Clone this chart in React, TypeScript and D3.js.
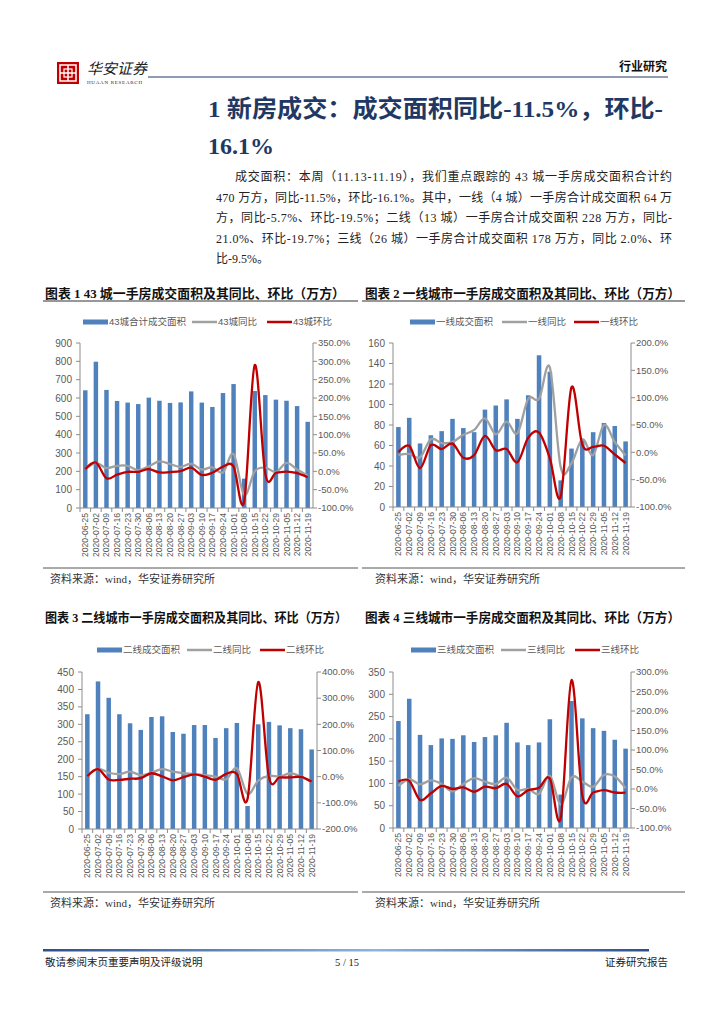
import React, { useEffect } from 'react';
import * as d3 from 'd3';

// weekly dates shared by all four charts
const dates = [
  '2020-06-25', '2020-07-02', '2020-07-09', '2020-07-16', '2020-07-23', '2020-07-30',
  '2020-08-06', '2020-08-13', '2020-08-20', '2020-08-27', '2020-09-03', '2020-09-10',
  '2020-09-17', '2020-09-24', '2020-10-01', '2020-10-08', '2020-10-15', '2020-10-22',
  '2020-10-29', '2020-11-05', '2020-11-12', '2020-11-19',
];

// 43 cities
const area43 = [642, 798, 644, 584, 575, 567, 602, 585, 573, 576, 636, 575, 551, 627, 676, 160, 638, 616, 591, 585, 556, 470];
const yoy43 = [5, 23, 9, 15, 15, 3, 14, 27, 20, 12, 21, 5, 11, -3, 47, -65, 0, 10, -2, 23, 5, -11.5];
const mom43 = [6, 24, -19, -9, -1.5, -1.4, 6, -3, -2, 0.5, 10, -10, -4, 13, 13, -82, 290, -8, -4, -1, -5, -16.1];

// tier 1
const area1 = [78, 87, 62, 70, 74, 86, 77, 73, 95, 99, 105, 86, 109, 148, 132, 26, 57, 66, 73, 82, 79, 64];
const yoy1 = [-5, -3, -9, 24, 17, 19, 32, 41, 62, 33, 56, 35, 98, 98, 155, -27, -20, 24, -5, 50, 19, -5.7];
const mom1 = [0, 12, -29, 13, 6, 16, -10, -5, 30, 4, 6, -18, 27, 36, -11, -81, 119, 14, 10, 12, -4, -19.5];

// tier 2
const area2 = [329, 423, 376, 329, 303, 284, 321, 323, 278, 273, 298, 298, 261, 289, 304, 66, 300, 307, 297, 289, 286, 228];
const yoy2 = [3, 30, 15, 10, 19, 6, 15, 29, 19, 13, 10, 6, 0, -10, 32, -66, -15, 3, 0, 13, 0, -21.0];
const mom2 = [2, 29, -11, -12, -8, -6, 13, 1, -14, -2, 9, 0, -12, 11, 10, -84, 362, -2, -3, -3, -1, -19.7];

// tier 3
const area3 = [240, 290, 209, 186, 201, 200, 208, 193, 204, 208, 236, 192, 186, 192, 244, 75, 285, 246, 224, 218, 198, 178];
const yoy3 = [8, 25, 12, 22, 13, -6, 13, 28, 19, 13, 29, -2, 0, -12, 34, -40, 30, 19, 6, 36, 32, 2.0];
const mom3 = [19, 21, -28, -11, 8, 0, 4, -7, 6, 2, 13, -19, -3, 3, 27, -75, 279, -17, -9, -3, -9, -9.5];

const paragraph = [
  '成交面积：本周（11.13-11.19），我们重点跟踪的 43 城一手房成交面积合计约',
  '470 万方，同比-11.5%，环比-16.1%。其中，一线（4 城）一手房合计成交面积 64 万',
  '方，同比-5.7%、环比-19.5%；二线（13 城）一手房合计成交面积 228 万方，同比-',
  '21.0%、环比-19.7%；三线（26 城）一手房合计成交面积 178 万方，同比 2.0%、环',
  '比-9.5%。',
];

const SERIF = '"Liberation Serif", "Noto Sans CJK SC", serif';
const SANS = '"Liberation Sans", "Noto Sans CJK SC", sans-serif';
const BLUE = '#4F81BD';
const GRAY = '#A0A0A0';
const RED = '#C00000';
const LABEL = '#595959';
const AXIS = '#8C8C8C';

interface ChartCfg {
  left: number; right: number; top: number; bottom: number;
  yMax: number; yStep: number;
  rMin: number; rMax: number; rStep: number;
  area: number[]; yoy: number[]; mom: number[];
  names: string[];
  legendY: number;
  legendX: number[]; // blue rect, gray line, red line start x
}

function Chart({ c }: { c: ChartCfg }) {
  const x = d3.scaleBand().domain(dates).range([c.left, c.right]).padding(0);
  const y = d3.scaleLinear().domain([0, c.yMax]).range([c.bottom, c.top]);
  const r = d3.scaleLinear().domain([c.rMin, c.rMax]).range([c.bottom, c.top]);
  const yTicks = d3.range(0, c.yMax + 0.001, c.yStep);
  const rTicks = d3.range(c.rMin, c.rMax + 0.001, c.rStep);
  const bw = x.step() * 0.42;
  const cx = (d: string) => (x(d) as number) + x.bandwidth() / 2;
  const line = d3.line<number>()
    .x((_, i) => cx(dates[i]))
    .y(v => r(v))
    .curve(d3.curveCardinal.tension(0));

  const colors = [BLUE, GRAY, RED];

  return (
    <g>
      {/* legend */}
      {c.names.map((n, i) => (
        <g key={n}>
          {i === 0
            ? <rect x={c.legendX[i]} y={c.legendY - 2.5} width={25} height={5} fill={BLUE} />
            : <line x1={c.legendX[i]} x2={c.legendX[i] + 25} y1={c.legendY} y2={c.legendY} stroke={colors[i]} strokeWidth={2.5} />}
          <text x={c.legendX[i] + 26} y={c.legendY} dy="0.35em" fontSize={9.5} fill={LABEL} fontFamily={SANS}>{n}</text>
        </g>
      ))}

      {/* left axis */}
      <line x1={c.left} x2={c.left} y1={c.top} y2={c.bottom} stroke={AXIS} strokeWidth={1} />
      {yTicks.map(t => (
        <g key={'y' + t}>
          <line x1={c.left - 4} x2={c.left} y1={y(t)} y2={y(t)} stroke={AXIS} />
          <text x={c.left - 8} y={y(t)} dy="0.35em" textAnchor="end" fontSize={10} fill={LABEL} fontFamily={SANS}>{t}</text>
        </g>
      ))}

      {/* right axis */}
      <line x1={c.right} x2={c.right} y1={c.top} y2={c.bottom} stroke={AXIS} strokeWidth={1} />
      {rTicks.map(t => (
        <g key={'r' + t}>
          <line x1={c.right} x2={c.right + 4} y1={r(t)} y2={r(t)} stroke={AXIS} />
          <text x={c.right + 5} y={r(t)} dy="0.35em" fontSize={9.5} fill={LABEL} fontFamily={SANS}>{t.toFixed(1) + '%'}</text>
        </g>
      ))}

      {/* bars */}
      {c.area.map((v, i) => (
        <rect key={'b' + i} x={cx(dates[i]) - bw / 2} y={y(v)} width={bw} height={c.bottom - y(v)} fill={BLUE} />
      ))}

      {/* x axis */}
      <line x1={c.left} x2={c.right} y1={c.bottom} y2={c.bottom} stroke={AXIS} />
      {dates.map((d, i) => (
        <line key={'xt' + i} x1={x(d) as number} x2={x(d) as number} y1={c.bottom} y2={c.bottom + 4} stroke={AXIS} />
      ))}
      {dates.map(d => (
        <text key={'xl' + d} transform={`translate(${cx(d)},${c.bottom + 5}) rotate(-90)`} dy="0.35em"
          textAnchor="end" fontSize={8.6} fill={LABEL} fontFamily={SANS}>{d}</text>
      ))}

      {/* lines */}
      <path d={line(c.yoy) || ''} fill="none" stroke={GRAY} strokeWidth={2.3} />
      <path d={line(c.mom) || ''} fill="none" stroke={RED} strokeWidth={2.3} />
    </g>
  );
}

const chart1: ChartCfg = {
  left: 80, right: 313, top: 343, bottom: 508,
  yMax: 900, yStep: 100, rMin: -100, rMax: 350, rStep: 50,
  area: area43, yoy: yoy43, mom: mom43,
  names: ['43城合计成交面积', '43城同比', '43城环比'],
  legendY: 322, legendX: [83, 192, 267],
};
const chart2: ChartCfg = {
  left: 393, right: 631, top: 343, bottom: 507,
  yMax: 160, yStep: 20, rMin: -100, rMax: 200, rStep: 50,
  area: area1, yoy: yoy1, mom: mom1,
  names: ['一线成交面积', '一线同比', '一线环比'],
  legendY: 322, legendX: [410, 502, 574],
};
const chart3: ChartCfg = {
  left: 82, right: 317, top: 672, bottom: 829,
  yMax: 450, yStep: 50, rMin: -200, rMax: 400, rStep: 100,
  area: area2, yoy: yoy2, mom: mom2,
  names: ['二线成交面积', '二线同比', '二线环比'],
  legendY: 650, legendX: [97, 187, 260],
};
const chart4: ChartCfg = {
  left: 393, right: 631, top: 672, bottom: 828,
  yMax: 350, yStep: 50, rMin: -100, rMax: 300, rStep: 50,
  area: area3, yoy: yoy3, mom: mom3,
  names: ['三线成交面积', '三线同比', '三线环比'],
  legendY: 650, legendX: [411, 501, 575],
};

function Caption({ x, y, w, x1, x2, text, rule }: { x: number; y: number; w: number; x1: number; x2: number; text: string; rule: boolean }) {
  return (
    <g>
      <text x={x} y={y} dy="0.35em" fontSize={13} fontWeight="bold" fill="#111" fontFamily={SERIF}
        textLength={w} lengthAdjust="spacingAndGlyphs">{text}</text>
      {rule && <line x1={x1} x2={x2} y1={y + 8} y2={y + 8} stroke="#333" strokeWidth={1.2} />}
    </g>
  );
}

function Source({ x, y, x1, x2 }: { x: number; y: number; x1: number; x2: number }) {
  return (
    <g>
      <line x1={x1} x2={x2} y1={y} y2={y} stroke="#555" strokeWidth={1} />
      <text x={x} y={y + 11} dy="0.35em" fontSize={11} fill="#333" fontFamily={SERIF}>资料来源：wind，华安证券研究所</text>
    </g>
  );
}

export default function App() {
  useEffect(() => {
    document.body.style.margin = '0';
  }, []);

  return (
    <svg width={724} height={1024} style={{ position: 'absolute', left: 0, top: 0, background: '#fff' }}>
      <defs>
        <linearGradient id="foot" x1="0" x2="1" y1="0" y2="0">
          <stop offset="0%" stopColor="#2B4F8C" />
          <stop offset="55%" stopColor="#8DB3E2" />
          <stop offset="100%" stopColor="#2B4F8C" />
        </linearGradient>
      </defs>

      {/* header */}
      <rect x={57} y={62} width={22} height={22} fill="#C00000" />
      <rect x={60} y={65} width={16} height={16} fill="none" stroke="#fff" strokeWidth={1.5} />
      <line x1={60} x2={76} y1={73} y2={73} stroke="#fff" strokeWidth={1.5} />
      <line x1={68} x2={68} y1={65} y2={81} stroke="#fff" strokeWidth={1.5} />
      <rect x={64} y={69} width={8} height={8} fill="none" stroke="#fff" strokeWidth={1.2} />
      <text x={87} y={74} fontSize={15} fill="#222" fontFamily={SERIF} fontStyle="italic">华安证券</text>
      <text x={87} y={84} fontSize={5} fill="#222" fontFamily={SERIF} textLength={55}>HUAAN RESEARCH</text>
      <line x1={148} x2={668} y1={77} y2={77} stroke="#1F3864" strokeWidth={1} />
      <text x={667} y={67} dy="0.35em" textAnchor="end" fontSize={12} fontWeight="bold" fill="#111" fontFamily={SERIF}>行业研究</text>

      {/* section title */}
      <text x={208} y={117} fontSize={24} fontWeight="bold" fill="#1F3864" fontFamily={SERIF} textLength={455} lengthAdjust="spacingAndGlyphs">1 新房成交：成交面积同比-11.5%，环比-</text>
      <text x={208} y={154} fontSize={24} fontWeight="bold" fill="#1F3864" fontFamily={SERIF}>16.1%</text>

      {/* paragraph */}
      {paragraph.map((t, i) => (
        <text key={i} x={i === 0 ? 235 : 216} y={177 + i * 20.5} dy="0.35em" fontSize={12} fill="#222" fontFamily={SERIF}
          {...(i < 4 ? { textLength: i === 0 ? 437 : 456, lengthAdjust: 'spacing' } : {})}>{t}</text>
      ))}

      {/* captions */}
      <Caption x={45} y={293} w={300} x1={43} x2={358} rule text="图表 1 43 城一手房成交面积及其同比、环比（万方）" />
      <Caption x={365} y={293} w={315} x1={362} x2={685} rule text="图表 2 一线城市一手房成交面积及其同比、环比（万方）" />
      <Caption x={45} y={617} w={302} x1={43} x2={358} rule={false} text="图表 3 二线城市一手房成交面积及其同比、环比（万方）" />
      <Caption x={365} y={617} w={315} x1={362} x2={685} rule={false} text="图表 4 三线城市一手房成交面积及其同比、环比（万方）" />

      <Chart c={chart1} />
      <Chart c={chart2} />
      <Chart c={chart3} />
      <Chart c={chart4} />

      <Source x={50} y={568} x1={43} x2={358} />
      <Source x={375} y={568} x1={362} x2={685} />
      <Source x={50} y={892} x1={43} x2={358} />
      <Source x={375} y={892} x1={362} x2={685} />

      {/* footer */}
      <rect x={43} y={949} width={606} height={2.5} fill="url(#foot)" />
      <text x={45} y={962} dy="0.35em" fontSize={10.5} fill="#222" fontFamily={SERIF}>敬请参阅末页重要声明及评级说明</text>
      <text x={347} y={962} dy="0.35em" textAnchor="middle" fontSize={10.5} fill="#222" fontFamily={SERIF}>5 / 15</text>
      <text x={668} y={962} dy="0.35em" textAnchor="end" fontSize={10.5} fill="#222" fontFamily={SERIF}>证券研究报告</text>
    </svg>
  );
}
